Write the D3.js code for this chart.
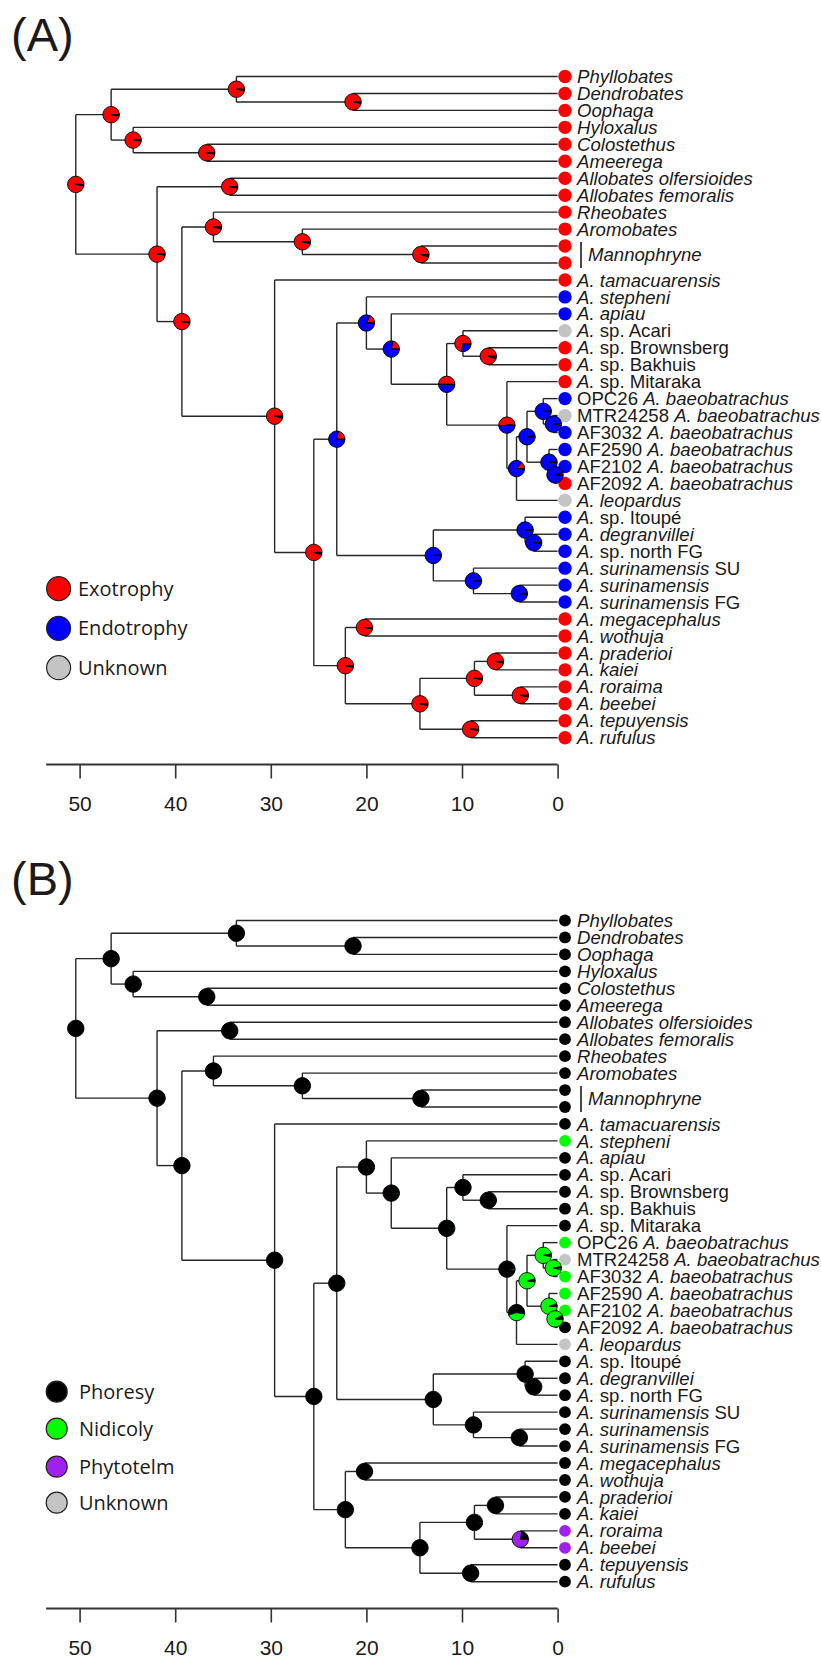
<!DOCTYPE html>
<html>
<head>
<meta charset="utf-8">
<script src="https://cdn.jsdelivr.net/npm/d3@7"></script>
<style>
  body { margin: 0; background: #fff; }
  svg text { fill: #1a1a1a; }
</style>
</head>
<body>
<svg id="fig" width="821" height="1660"></svg>
<script>
// ---- tips (top to bottom); "_" toggles italic ----
const tipLabels = [
  "_Phyllobates_", "_Dendrobates_", "_Oophaga_", "_Hyloxalus_", "_Colostethus_",
  "_Ameerega_", "_Allobates olfersioides_", "_Allobates femoralis_", "_Rheobates_", "_Aromobates_",
  "", "", "_A. tamacuarensis_", "_A. stepheni_", "_A. apiau_",
  "_A._ sp. Acari", "_A._ sp. Brownsberg", "_A._ sp. Bakhuis", "_A._ sp. Mitaraka",
  "OPC26 _A. baeobatrachus_", "MTR24258 _A. baeobatrachus_", "AF3032 _A. baeobatrachus_",
  "AF2590 _A. baeobatrachus_", "AF2102 _A. baeobatrachus_", "AF2092 _A. baeobatrachus_",
  "_A. leopardus_", "_A._ sp. Itoupé", "_A. degranvillei_", "_A._ sp. north FG",
  "_A. surinamensis_ SU", "_A. surinamensis_", "_A. surinamensis_ FG",
  "_A. megacephalus_", "_A. wothuja_", "_A. praderioi_", "_A. kaiei_",
  "_A. roraima_", "_A. beebei_", "_A. tepuyensis_", "_A. rufulus_"
];
// bracketed group labels: [text, first tip, last tip]
const groupLabels = [["Mannophryne", 10, 11]];

// ---- internal nodes: [id, age (Ma), child, child]; numbers are tip indices ----
const nodeTable = [
  ["n0", 50.4, "n1", "n6"],
  ["n1", 46.7, "n2", "n4"],
  ["n2", 33.6, 0, "n3"],
  ["n3", 21.4, 1, 2],
  ["n4", 44.4, 3, "n5"],
  ["n5", 36.7, 4, 5],
  ["n6", 41.9, "n7", "n8"],
  ["n7", 34.3, 6, 7],
  ["n8", 39.3, "n9", "n12"],
  ["n9", 36.0, 8, "n10"],
  ["n10", 26.7, 9, "n11"],
  ["n11", 14.3, 10, 11],
  ["n12", 29.6, 12, "n13"],
  ["n13", 25.5, "n14", "n30"],
  ["n14", 23.1, "n15", "n25"],
  ["n15", 20.0, 13, "n16"],
  ["n16", 17.4, 14, "n17"],
  ["n17", 11.6, "n18", "n20"],
  ["n18", 9.9, 15, "n19"],
  ["n19", 7.25, 16, 17],
  ["n20", 5.3, 18, "n21"],
  ["n21", 4.3, "n22", 25],
  ["n22", 3.2, "n23", "n24"],
  ["n23", 1.5, 19, "n23b"],
  ["n23b", 0.45, 20, 21],
  ["n24", 0.9, 22, "n24b"],
  ["n24b", 0.27, 23, 24],
  ["n25", 13.0, "n26", "n28"],
  ["n26", 3.4, 26, "n27"],
  ["n27", 2.5, 27, 28],
  ["n28", 8.8, 29, "n29"],
  ["n29", 4.0, 30, 31],
  ["n30", 22.2, "n31", "n32"],
  ["n31", 20.2, 32, 33],
  ["n32", 14.4, "n33", "n36"],
  ["n33", 8.7, "n34", "n35"],
  ["n34", 6.5, 34, 35],
  ["n35", 3.9, 36, 37],
  ["n36", 9.1, 38, 39]
];

// ---- (A) larval development ----
const statesA = ["Exotrophy", "Endotrophy", "Unknown"];
const coloursA = ["#ff0000", "#0000ff", "#c4c4c4"];
const tipStateA = [0,0,0,0,0,0,0,0,0,0, 0,0,0,1,1, 2,0,0,0, 1,2,1,1,1,0, 2,1,1,1, 1,1,1, 0,0,0,0,0,0,0,0];
// marginal likelihoods per node, same order as nodeTable
const nodeProbA = [
  [0.97,0.02,0.01],[0.98,0.01,0.01],[0.97,0.02,0.01],[0.97,0.02,0.01],[0.98,0.01,0.01],
  [0.97,0.02,0.01],[0.98,0.01,0.01],[0.97,0.02,0.01],[0.97,0.02,0.01],[0.96,0.03,0.01],
  [0.96,0.03,0.01],[0.95,0.03,0.02],[0.96,0.03,0.01],[0.96,0.03,0.01],[0.22,0.77,0.01],
  [0.18,0.81,0.01],[0.22,0.77,0.01],[0.50,0.49,0.01],[0.72,0.26,0.02],[0.95,0.03,0.02],
  [0.52,0.47,0.01],[0.14,0.85,0.01],[0.03,0.96,0.01],[0.02,0.97,0.01],[0.01,0.97,0.02],
  [0.03,0.96,0.01],[0.05,0.94,0.01],[0.01,0.98,0.01],[0.01,0.98,0.01],[0.01,0.98,0.01],
  [0.01,0.98,0.01],[0.01,0.98,0.01],[0.97,0.02,0.01],[0.97,0.02,0.01],[0.97,0.02,0.01],
  [0.97,0.02,0.01],[0.97,0.02,0.01],[0.97,0.02,0.01],[0.97,0.02,0.01]
];

// ---- (B) tadpole deposition ----
const statesB = ["Phoresy", "Nidicoly", "Phytotelm", "Unknown"];
const coloursB = ["#000000", "#00ff00", "#a020f0", "#c4c4c4"];
const tipStateB = [0,0,0,0,0,0,0,0,0,0, 0,0,0,1,0, 0,0,0,0, 1,3,1,1,1,0, 3,0,0,0, 0,0,0, 0,0,0,0,2,2,0,0];
const nodeProbB = [
  [0.99,0.01,0,0],[0.99,0.01,0,0],[0.99,0.01,0,0],[0.99,0.01,0,0],[0.99,0.01,0,0],
  [0.99,0.01,0,0],[0.99,0.01,0,0],[0.99,0.01,0,0],[0.99,0.01,0,0],[0.99,0.01,0,0],
  [0.99,0.01,0,0],[0.99,0.01,0,0],[0.99,0.01,0,0],[0.99,0.01,0,0],[0.98,0.02,0,0],
  [0.98,0.02,0,0],[0.98,0.02,0,0],[0.98,0.02,0,0],[0.99,0.01,0,0],[0.99,0.01,0,0],
  [0.97,0.03,0,0],[0.55,0.43,0,0.02],[0.04,0.94,0,0.02],[0.03,0.95,0,0.02],[0.03,0.94,0,0.03],
  [0.05,0.94,0,0.01],[0.08,0.91,0,0.01],[0.99,0.01,0,0],[0.99,0.01,0,0],[0.99,0.01,0,0],
  [0.99,0.01,0,0],[0.99,0.01,0,0],[0.99,0.01,0,0],[0.99,0.01,0,0],[0.99,0.01,0,0],
  [0.97,0,0.03,0],[0.99,0.01,0,0],[0.22,0,0.78,0],[0.99,0.01,0,0]
];

const ageTicks = [50, 40, 30, 20, 10, 0];

// ---- scales ----
const x = d3.scaleLinear().domain([50, 0]).range([79.6, 557.6]);
const yTip = d3.scaleLinear().domain([0, tipLabels.length - 1]).range([76.5, 737.7]);

// ---- build the tree ----
const byId = new Map(nodeTable.map((r, i) => [r[0], {row: r, idx: i}]));
function build(ref) {
  if (typeof ref === "number") return {tip: ref, age: 0};
  const {row, idx} = byId.get(ref);
  return {id: row[0], idx, age: row[1], kids: [build(row[2]), build(row[3])]};
}
const root = d3.hierarchy(build("n0"), d => d.kids);
root.eachAfter(n => {
  n.px = x(n.data.age);
  n.py = n.children ? d3.mean(n.children, c => c.py) : yTip(n.data.tip);
});

const svg = d3.select("#fig");
const pie = d3.pie().sort(null).startAngle(Math.PI / 2).endAngle(Math.PI / 2 - 2 * Math.PI);

function addLabel(sel, markup) {
  const parts = markup.split("_");
  parts.forEach((p, i) => {
    if (!p) return;
    sel.append("tspan").attr("font-style", i % 2 ? "italic" : "normal").text(p);
  });
}

function drawPanel(offset, panelName, tipState, nodeProb, colours, states, legend) {
  const g = svg.append("g").attr("transform", `translate(0,${offset})`);

  g.append("text").attr("x", 11).attr("y", 51)
    .attr("font-family", "Liberation Sans, Arial, sans-serif").attr("font-size", 47)
    .text(panelName);

  // branches
  const edges = g.append("g").attr("stroke", "#262626").attr("stroke-width", 1.4).attr("fill", "none");
  root.descendants().forEach(n => {
    if (n.children) {
      edges.append("line")
        .attr("x1", n.px).attr("x2", n.px)
        .attr("y1", n.children[0].py).attr("y2", n.children[1].py);
    }
    if (n.parent) {
      edges.append("line")
        .attr("x1", n.parent.px).attr("x2", n.px)
        .attr("y1", n.py).attr("y2", n.py);
    }
  });

  // tip states
  const leaves = root.leaves();
  g.append("g").selectAll("circle").data(leaves).join("circle")
    .attr("cx", 565).attr("cy", d => d.py)
    .attr("r", legend.tipR)
    .attr("fill", d => colours[tipState[d.data.tip]]);

  // tip labels
  const lab = g.append("g").attr("font-family", "Liberation Sans, Arial, sans-serif").attr("font-size", 18.6);
  leaves.forEach(d => {
    const label = tipLabels[d.data.tip];
    if (!label) return;
    const t = lab.append("text").attr("x", 577).attr("y", d.py + 6.6);
    addLabel(t, label);
  });
  groupLabels.forEach(([name, a, b]) => {
    const y0 = yTip(a) - 4, y1 = yTip(b) + 5;
    lab.append("line").attr("x1", 581).attr("x2", 581).attr("y1", y0).attr("y2", y1)
      .attr("stroke", "#1a1a1a").attr("stroke-width", 1.6);
    lab.append("text").attr("x", 588).attr("y", (yTip(a) + yTip(b)) / 2 + 6.6)
      .attr("font-style", "italic").text(name);
  });

  // ancestral state pies
  const arc = d3.arc().innerRadius(0).outerRadius(8.2);
  const internals = root.descendants().filter(n => n.children);
  internals.forEach(n => {
    const probs = nodeProb[n.data.idx];
    const pg = g.append("g").attr("transform", `translate(${n.px},${n.py})`);
    pg.selectAll("path")
      .data(pie(probs).filter(s => s.data > 0))
      .join("path")
      .attr("d", arc)
      .attr("fill", s => colours[s.index])
      .attr("stroke", "#000").attr("stroke-width", 0.9);
  });

  // legend
  const lg = g.append("g").attr("font-family", "Open Sans, Lato, sans-serif").attr("font-size", 20);
  states.forEach((s, i) => {
    const cy = legend.y[i];
    lg.append("circle").attr("cx", legend.x).attr("cy", cy).attr("r", legend.r)
      .attr("fill", colours[i]).attr("stroke", "#222").attr("stroke-width", 1.2);
    lg.append("text").attr("x", legend.tx).attr("y", cy + 7).text(s);
  });

  // time axis (Ma before present)
  const axisY = 764.5;
  const ax = g.append("g").attr("transform", `translate(0,${axisY})`)
    .call(d3.axisBottom(x).tickValues(ageTicks).tickSize(14).tickPadding(18).tickFormat(d3.format("d")));
  ax.select(".domain").remove();
  ax.selectAll(".tick line").attr("stroke", "#333").attr("stroke-width", 1.6);
  ax.selectAll(".tick text").attr("font-family", "Liberation Sans, Arial, sans-serif")
    .attr("font-size", 21).attr("fill", "#1a1a1a");
  ax.append("line").attr("x1", x(53.5)).attr("x2", x(0)).attr("y1", 0).attr("y2", 0)
    .attr("stroke", "#333").attr("stroke-width", 2);
}

drawPanel(0, "(A)", tipStateA, nodeProbA, coloursA, statesA,
  {tipR: 6.7, x: 58.6, tx: 78, r: 12, y: [588.7, 628.3, 667.7]});
drawPanel(844, "(B)", tipStateB, nodeProbB, coloursB, statesB,
  {tipR: 5.9, x: 56.7, tx: 79, r: 10.5, y: [547.7, 584.7, 622.7, 658.7]});
</script>
</body>
</html>
